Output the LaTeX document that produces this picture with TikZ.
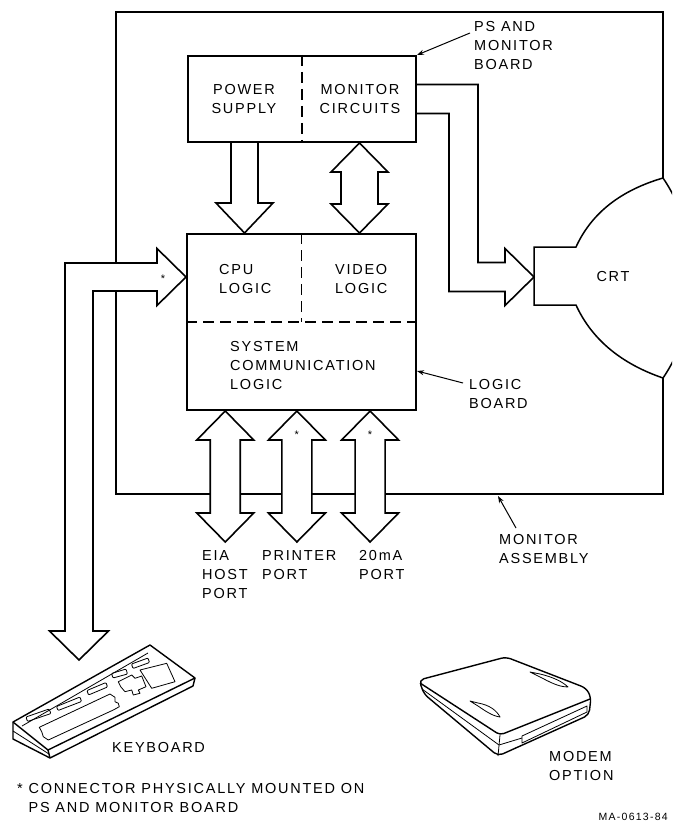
\documentclass[tikz,border=0pt]{standalone}
\usepackage{fontspec}
\setmainfont{Liberation Sans}[LetterSpace=12]
\usetikzlibrary{calc,positioning,arrows.meta}
\tikzset{
	shell/.style={line width=2.6pt},
	board/.style={draw, line width=2pt, inner sep=0pt},
	divider/.style={line width=1.3pt, dash pattern=on 11pt off 6pt},
	lbl/.style={font=\fontsize{14.5}{19}\selectfont, align=left, inner sep=0pt},
	star/.style={font=\fontsize{11}{11}\selectfont, inner sep=0pt},
	fat/.style={draw, line width=1.6pt, line join=miter},
	fatfill/.style={fat, fill=white},
	leader/.style={-{Stealth[length=7pt,width=5pt]}, line width=1pt},
	sketch/.style={line width=0.8pt, line join=round},
	outline/.style={line width=1.4pt, line join=round}
}
% hollow double arrow: [body half width]{top end}{bottom end}
\newcommand{\dblarrow}[3][15]{%
	\draw[fatfill] (#2) -- ($(#2)+(28.5,29)$) -- ($(#2)+(#1,29)$) -- ($(#3)+(#1,-29)$)
		-- ($(#3)+(28.5,-29)$) -- (#3) -- ($(#3)+(-28.5,-29)$) -- ($(#3)+(-#1,-29)$)
		-- ($(#2)+(-#1,29)$) -- ($(#2)+(-28.5,29)$) -- cycle;}
% hollow single arrow: [body half width]{tail}{tip}
\newcommand{\sglarrow}[3][14]{%
	\draw[fat] ($(#2)+(-#1,0)$) -- ($(#3)+(-#1,-30)$) -- ($(#3)+(-28.5,-30)$) -- (#3)
		-- ($(#3)+(28.5,-30)$) -- ($(#3)+(#1,-30)$) -- ($(#2)+(#1,0)$);}

\begin{document}
\begin{tikzpicture}[x=1pt,y=-1pt]
	\useasboundingbox (0,0) rectangle (672,829);

	% monitor assembly
	\draw[shell] (663,178) -- (663,12) -- (116,12) -- (116,494) -- (663,494) -- (663,378);

	% crt
	\begin{scope}
		\clip (0,0) rectangle (672,829);
		\draw[line width=1.5pt] (663,178) .. controls (702,235) and (702,321) .. (663,378);
	\end{scope}
	\draw[line width=1.5pt] (663,178) .. controls (622,190) and (592,212) .. (576,247) -- (534,247)
		-- (534,305) -- (576,305) .. controls (592,340) and (622,364) .. (663,378);
	\node[lbl] (crt) at (613,277) {CRT};
	\coordinate (neck) at (534,277);

	% ps and monitor board
	\node[board, minimum width=228, minimum height=86] (ps) at (302,99) {};
	\draw[divider] (ps.north) -- (ps.south);
	\node[lbl, align=center] (pwr) at (244,99) {POWER\\SUPPLY};
	\node[lbl, align=center] (mon) at (360,99) {MONITOR\\CIRCUITS};
	\node[lbl, anchor=west] (psb) at (474,46) {PS AND\\MONITOR\\BOARD};
	\coordinate (psb-lead) at (470,33);
	\draw[leader] (psb-lead) -- (ps.north east);

	% logic board
	\node[board, minimum width=229, minimum height=176] (logic) at (301.5,322) {};
	\draw[divider] (logic.north) -- (logic.center);
	\draw[divider] (logic.west) -- (logic.east);
	\node[lbl, anchor=west] (cpu) at (219,279) {CPU\\LOGIC};
	\node[lbl, anchor=west] (vid) at (335,279) {VIDEO\\LOGIC};
	\node[lbl, anchor=west] (scl) at (230,366) {SYSTEM\\COMMUNICATION\\LOGIC};
	\node[lbl, anchor=west] (lb) at (469,394) {LOGIC\\BOARD};
	\coordinate (lb-lead) at (463,383);
	\draw[leader] (lb-lead) -- (logic.east |- 0,371);

	% power and monitor paths
	\coordinate (pwr-top) at ($(ps.south west)!0.25!(ps.south east)$);
	\coordinate (pwr-bot) at (pwr-top |- logic.north);
	\sglarrow[13.5]{pwr-top}{pwr-bot}
	\coordinate (mon-top) at ($(ps.south west)!0.75!(ps.south east)$);
	\coordinate (mon-bot) at (mon-top |- logic.north);
	\dblarrow[18.5]{mon-top}{mon-bot}

	% monitor circuits to crt
	\coordinate (crt-bend) at (463.5,277);
	\draw[fat] ($(ps.east)+(0,-14.5)$) -- ($(crt-bend |- ps.east)+(14.5,-14.5)$) -- ($(crt-bend)+(14.5,-14.5)$)
		-- ($(neck)+(-29,-14.5)$) -- ($(neck)+(-29,-28.5)$) -- (neck) -- ($(neck)+(-29,28.5)$)
		-- ($(neck)+(-29,14.5)$) -- ($(crt-bend)+(-14.5,14.5)$) -- ($(crt-bend |- ps.east)+(-14.5,14.5)$)
		-- ($(ps.east)+(0,14.5)$);

	% keyboard path
	\coordinate (kb-in) at (logic.west |- 0,277);
	\coordinate (kb-out) at (79,660);
	\draw[fatfill] (kb-in) -- ($(kb-in)+(-29,-28.5)$) -- ($(kb-in)+(-29,-14)$) -- ($(kb-out |- kb-in)+(-14,-14)$)
		-- ($(kb-out)+(-14,-29)$) -- ($(kb-out)+(-29.5,-29)$) -- (kb-out) -- ($(kb-out)+(29.5,-29)$)
		-- ($(kb-out)+(14,-29)$) -- ($(kb-out |- kb-in)+(14,14)$) -- ($(kb-in)+(-29,14)$)
		-- ($(kb-in)+(-29,28.5)$) -- cycle;
	\node[star] (kb-star) at (163,279) {*};

	% ports
	\foreach \f/\n in {0.17/eia,0.48/prt,0.797/cur}{
		\coordinate (\n-top) at ($(logic.south west)!\f!(logic.south east)$);
		\coordinate (\n-end) at (\n-top |- 0,542);
		\dblarrow{\n-top}{\n-end}
	}
	\node[star] (prt-star) at (prt-top |- 0,435) {*};
	\node[star] (cur-star) at (cur-top |- 0,435) {*};
	\node[lbl, anchor=north west] (eia) at (202,550.5) {EIA\\HOST\\PORT};
	\node[lbl, anchor=north west] (prt) at (262,550.5) {PRINTER\\PORT};
	\node[lbl, anchor=north west] (cur) at (359,550.5) {20mA\\PORT};

	\node[lbl, anchor=west] (ma) at (499,549) {MONITOR\\ASSEMBLY};
	\coordinate (ma-lead) at (516,528);
	\draw[leader] (ma-lead) -- (498,496);

	% keyboard
	\draw[outline, fill=white] (13,722) -- (150,645) -- (195,678) -- (193,686) -- (50,758) -- (13,739) -- cycle;
	\draw[outline] (13,722) -- (48,750) -- (195,678);
	\draw[outline] (48,750) -- (50,758);
	\draw[sketch] (13,731) -- (49,754);
	\draw[sketch] (22,726) -- (148,653);
	\draw[sketch, rounded corners=1pt] (26,717) -- (49,709) -- (51,713.5) -- (27.5,721.5) -- cycle;
	\draw[sketch, rounded corners=1pt] (56.5,706.5) -- (80,697) -- (81.5,701.5) -- (58,710.5) -- cycle;
	\draw[sketch, rounded corners=1pt] (87,690.5) -- (106,682.5) -- (107.5,687) -- (88.5,695) -- cycle;
	\draw[sketch, rounded corners=1pt] (111.5,673.5) -- (126,669) -- (127.5,674) -- (113,678) -- cycle;
	\draw[sketch, rounded corners=1pt] (131.5,664) -- (148,658) -- (149.5,662.5) -- (133,668.5) -- cycle;
	\draw[sketch] (39.3,727.3) -- (110,694) -- (115,697.3) -- (115,701.7) -- (118.3,703.3) -- (119.3,706.7)
		-- (113.3,710) -- (48.3,740) -- (43.3,736.7) -- (41.7,731.7) -- cycle;
	\draw[sketch] (118.3,681.7) -- (131.7,675) -- (135,678.3) -- (141.7,676) -- (146,686.7) -- (138.3,690)
		-- (140,693.3) -- (133.3,695) -- (131.7,690) -- (125,691.7) -- (120.7,686.7) -- cycle;
	\draw[sketch] (140,670) -- (166.7,663.3) -- (175,681.7) -- (151.7,688.3) -- cycle;
	\node[lbl, anchor=west] (kbl) at (112,747) {KEYBOARD};

	% modem
	\draw[outline, rounded corners=5pt] (424,694) -- (419,680) -- (506,657) -- (586,688) -- (591,697) -- (589,715) -- (498,756) -- cycle;
	\draw[outline, rounded corners=4pt] (420,683) -- (500,735) -- (590,699);
	\draw[sketch] (422,689) -- (499,745);
	\draw[sketch] (500,735) -- (498,756);
	\draw[sketch] (499,745) -- (522,738);
	\draw[sketch] (522,736) -- (587,706) -- (587,712) -- (522,743) -- cycle;
	\draw[sketch] (470,701) -- (478,703) .. controls (490,705) and (497,711) .. (500,717) .. controls (492,716) and (484,710) .. (478,706) -- cycle;
	\draw[sketch] (530,672) -- (540,674) .. controls (553,677) and (563,682) .. (568,687) .. controls (558,687) and (548,681) .. (540,677) -- cycle;
	\node[lbl, anchor=west] (mdl) at (549,766) {MODEM\\OPTION};

	% footnote
	\node[lbl, anchor=west] (note) at (17,797.5) {* CONNECTOR PHYSICALLY MOUNTED ON\\\hphantom{* }PS AND MONITOR BOARD};
	\node[font=\fontsize{10.5}{12}\selectfont, anchor=east, inner sep=0pt] (fig) at (668,817) {MA-0613-84};
\end{tikzpicture}
\end{document}
